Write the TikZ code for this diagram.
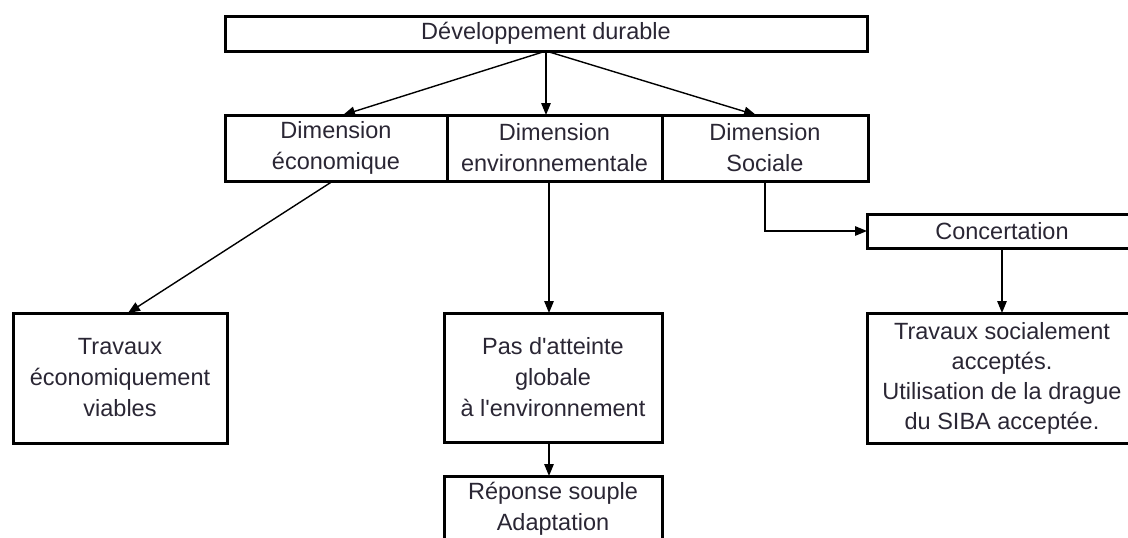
\documentclass[tikz,border=0pt]{standalone}
\usepackage{fontspec}
\setmainfont{Liberation Sans}
\usetikzlibrary{arrows.meta}
\definecolor{ink}{RGB}{42,38,52}
\begin{document}
\begin{tikzpicture}[x=1pt,y=-1pt,
  box/.style={draw=black,line width=3pt,rectangle,inner sep=0pt,outer sep=0pt,
    align=center,text=ink,font=\fontsize{23.5}{31}\selectfont},
  arr/.style={-{Triangle[length=12pt,width=9.5pt]},line width=1.4pt,draw=black},
  lnk/.style={line width=1.4pt,draw=black}]
\useasboundingbox (0,0) rectangle (1128,538);
\clip (0,0) rectangle (1128,538);

% top level
\node[box,minimum width=642,minimum height=35] (top) at (546,33.5) {Développement durable};

% the three dimensions
\node[box,minimum width=222,minimum height=66] (eco) at (336,148) {Dimension\\économique};
\node[box,minimum width=215,minimum height=66] (env) at (554.5,148) {Dimension\\environnementale};
\node[box,minimum width=206,minimum height=66] (soc) at (765,148) {Dimension\\Sociale};

% consequences
\node[box,minimum width=214,minimum height=130] (tre) at (120,378) {Travaux\\économiquement\\viables};
\node[box,minimum width=218,minimum height=129] (pas) at (553,377.5)
  {Pas d\textquotesingle atteinte\\globale\\à l\textquotesingle environnement};
\node[box,minimum width=218,minimum height=66] (rep) at (553,509) {Réponse souple\\Adaptation};
\node[box,minimum width=270,minimum height=34] (conc) at (1002,231) {Concertation};
\node[box,minimum width=270,minimum height=130,font=\fontsize{23.5}{30}\selectfont] (trs) at (1002,378)
  {Travaux socialement\\acceptés.\\Utilisation de la drague\\du SIBA acceptée.};

\coordinate (mid) at (549,0);

% connectors
\draw[arr] (top.south) -- ([xshift=7]eco.north);
\draw[arr] (top.south) -- (env.north -| top.south);
\draw[arr] (top.south) -- ([xshift=-9]soc.north);
\draw[arr] ([xshift=-3]eco.south) -- ([xshift=8]tre.north);
\draw[arr] (env.south -| mid) -- (pas.north -| mid);
\draw[arr] (pas.south -| mid) -- (rep.north -| mid);
\draw[arr] (soc.south) |- (conc.west);
\draw[arr] (conc.south) -- (trs.north);
\end{tikzpicture}
\end{document}
